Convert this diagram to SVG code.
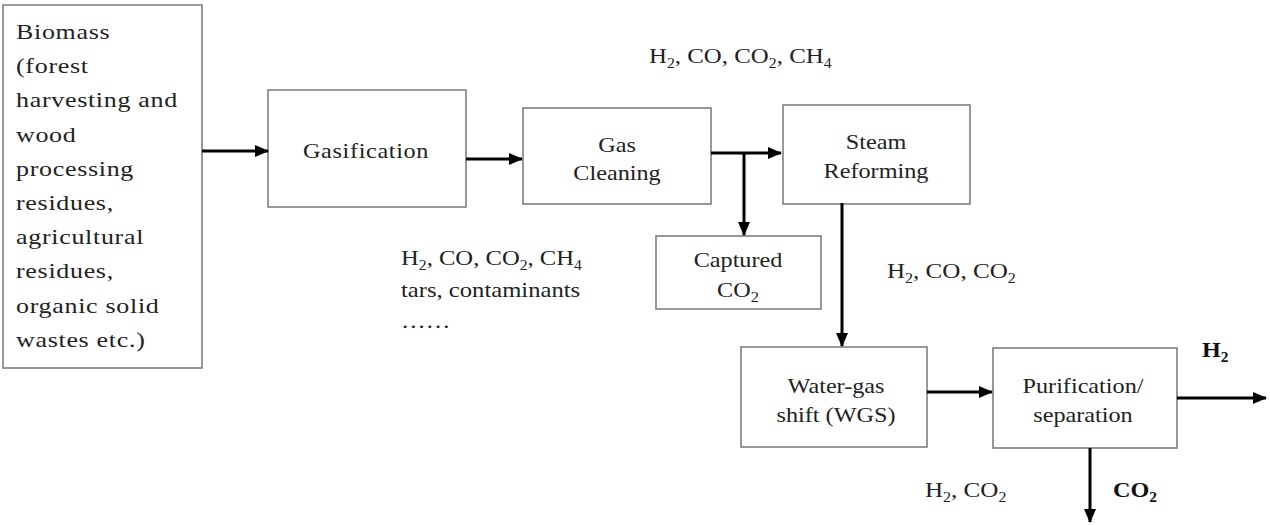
<svg xmlns="http://www.w3.org/2000/svg" width="1270" height="525" viewBox="0 0 1270 525">
<style>
text{font-family:'Liberation Serif','Times New Roman',serif;font-size:22px;fill:#222}
.box{fill:#fff;stroke:#7f7f7f;stroke-width:1.6}
.bm{letter-spacing:0.6px}
.bold{font-weight:bold;fill:#111}
.c{text-anchor:middle}
.arr{stroke:#000;stroke-width:3;fill:none;marker-end:url(#ah)}
</style>
<defs>
<marker id="ah" markerUnits="userSpaceOnUse" markerWidth="14" markerHeight="12" refX="13" refY="6" orient="auto">
<path d="M0,0 L14,6 L0,12 Z" fill="#000"/>
</marker>
</defs>
<rect width="1270" height="525" fill="#fff"/>
<g id="biomass">
<rect class="box" x="3" y="5" width="199" height="363"/>
<text class="bm" transform="translate(16,39) scale(1.18,1)">Biomass</text>
<text class="bm" transform="translate(16,73) scale(1.18,1)">(forest</text>
<text class="bm" transform="translate(16,107) scale(1.18,1)">harvesting and</text>
<text class="bm" transform="translate(16,142) scale(1.18,1)">wood</text>
<text class="bm" transform="translate(16,176) scale(1.18,1)">processing</text>
<text class="bm" transform="translate(16,210) scale(1.18,1)">residues,</text>
<text class="bm" transform="translate(16,244) scale(1.18,1)">agricultural</text>
<text class="bm" transform="translate(16,278) scale(1.18,1)">residues,</text>
<text class="bm" transform="translate(16,313) scale(1.18,1)">organic solid</text>
<text class="bm" transform="translate(16,347) scale(1.18,1)">wastes etc.)</text>
</g>
<g id="gasification">
<rect class="box" x="268" y="90" width="198" height="117"/>
<text class="c" letter-spacing="0.6" transform="translate(366,158) scale(1.1,1)">Gasification</text>
</g>
<g id="gas-cleaning">
<rect class="box" x="523" y="108" width="188" height="96"/>
<text class="c" transform="translate(617,152) scale(1.1,1)">Gas</text>
<text class="c" transform="translate(617,180) scale(1.1,1)">Cleaning</text>
</g>
<g id="steam-reforming">
<rect class="box" x="783" y="105" width="187" height="99"/>
<text class="c" transform="translate(876,149) scale(1.1,1)">Steam</text>
<text class="c" transform="translate(876,178) scale(1.1,1)">Reforming</text>
</g>
<g id="captured-co2">
<rect class="box" x="656" y="236" width="165" height="73"/>
<text class="c" transform="translate(738,267) scale(1.1,1)">Captured</text>
<text class="c" transform="translate(738,297) scale(1.1,1)">CO<tspan font-size="15" dy="5">2</tspan></text>
</g>
<g id="wgs">
<rect class="box" x="741" y="347" width="186" height="100"/>
<text class="c" transform="translate(836,393) scale(1.1,1)">Water-gas</text>
<text class="c" transform="translate(836,422) scale(1.1,1)">shift (WGS)</text>
</g>
<g id="purification">
<rect class="box" x="993" y="348" width="184" height="100"/>
<text class="c" transform="translate(1083,393) scale(1.1,1)">Purification/</text>
<text class="c" transform="translate(1083,422) scale(1.1,1)">separation</text>
</g>
<g id="connectors">
<line class="arr" x1="202" y1="151" x2="268" y2="151"/>
<line class="arr" x1="466" y1="159" x2="522" y2="159"/>
<line class="arr" x1="711" y1="153" x2="781" y2="153"/>
<line class="arr" x1="744" y1="153" x2="744" y2="235"/>
<line class="arr" x1="842" y1="203" x2="842" y2="346"/>
<line class="arr" x1="927" y1="392" x2="992" y2="392"/>
<line class="arr" x1="1177" y1="398" x2="1266" y2="398"/>
<line class="arr" x1="1090" y1="448" x2="1090" y2="522"/>
</g>
<g id="labels">
<text transform="translate(649,63) scale(1.13,1)">H<tspan font-size="14" dy="5">2</tspan><tspan dy="-5">, CO, CO</tspan><tspan font-size="14" dy="5">2</tspan><tspan dy="-5">, CH</tspan><tspan font-size="14" dy="5">4</tspan></text>
<text transform="translate(401,265) scale(1.12,1)">H<tspan font-size="14" dy="5">2</tspan><tspan dy="-5">, CO, CO</tspan><tspan font-size="14" dy="5">2</tspan><tspan dy="-5">, CH</tspan><tspan font-size="14" dy="5">4</tspan></text>
<text transform="translate(401,297) scale(1.12,1)">tars, contaminants</text>
<text transform="translate(401,328) scale(1.12,1)">……</text>
<text transform="translate(887,278) scale(1.14,1)">H<tspan font-size="14" dy="5">2</tspan><tspan dy="-5">, CO, CO</tspan><tspan font-size="14" dy="5">2</tspan></text>
<text transform="translate(925,497) scale(1.14,1)">H<tspan font-size="14" dy="5">2</tspan><tspan dy="-5">, CO</tspan><tspan font-size="14" dy="5">2</tspan></text>
<text class="bold" transform="translate(1202,357) scale(1.1,1)">H<tspan font-size="14" dy="5">2</tspan></text>
<text class="bold" transform="translate(1113,497) scale(1.1,1)">CO<tspan font-size="14" dy="5">2</tspan></text>
</g>
</svg>
